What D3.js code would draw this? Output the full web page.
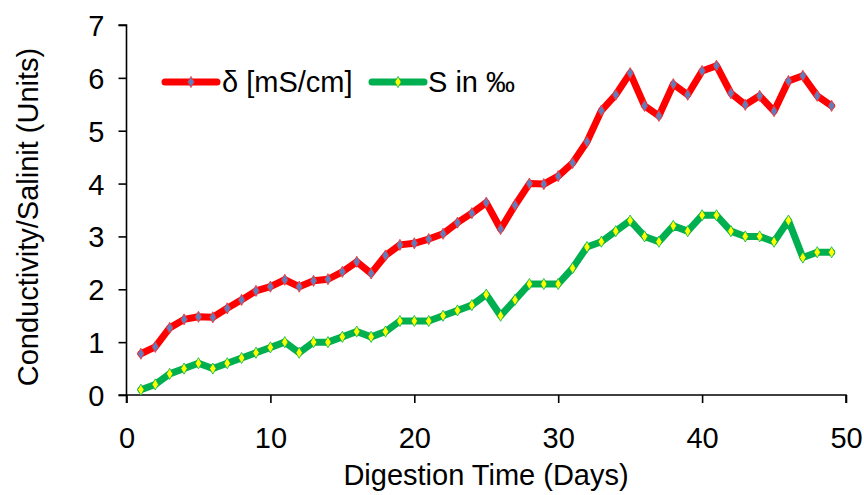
<!DOCTYPE html>
<html><head><meta charset="utf-8">
<script src="https://cdn.jsdelivr.net/npm/d3@7"></script>
<style>body{margin:0;background:#fff;} svg{display:block;} text{font-family:"Liberation Sans",Arial,sans-serif;fill:#000;}</style>
</head><body><svg id="c" width="864" height="495"></svg>
<script>
const days = d3.range(1, 50);
const conductivity = [0.78,0.91,1.27,1.43,1.48,1.47,1.64,1.80,1.97,2.05,2.18,2.05,2.16,2.19,2.33,2.52,2.30,2.64,2.84,2.87,2.95,3.05,3.26,3.44,3.64,3.14,3.59,4.00,3.99,4.14,4.39,4.79,5.38,5.68,6.09,5.47,5.28,5.88,5.68,6.13,6.23,5.71,5.49,5.66,5.37,5.94,6.04,5.66,5.47];
const salinity = [0.1,0.2,0.4,0.5,0.6,0.5,0.6,0.7,0.8,0.9,1.0,0.8,1.0,1.0,1.1,1.2,1.1,1.2,1.4,1.4,1.4,1.5,1.6,1.7,1.9,1.5,1.8,2.1,2.1,2.1,2.4,2.8,2.9,3.1,3.3,3.0,2.9,3.2,3.1,3.4,3.4,3.1,3.0,3.0,2.9,3.3,2.6,2.7,2.7];
const xTicks = [0,10,20,30,40,50];
const yTicks = [0,1,2,3,4,5,6,7];
const seriesNames = ["δ [mS/cm]", "S in ‰"];

const svg = d3.select("#c");
const x = d3.scaleLinear().domain([0,50]).range([126.5,846]);
const y = d3.scaleLinear().domain([0,7]).range([395,25]);
const FS = 29;

const series = [
  {name: seriesNames[0], values: conductivity, line: "#ff0000", mfill: "#5b7fc0", mstroke: "#ff3030"},
  {name: seriesNames[1], values: salinity, line: "#00b050", mfill: "#ffff00", mstroke: "#00b050"}
];

// axes
const yAxis = svg.append("g").attr("transform","translate(126.5,0)")
  .call(d3.axisLeft(y).tickValues(yTicks).tickSize(8).tickFormat(d3.format("d")));
const xAxis = svg.append("g").attr("transform","translate(0,395)")
  .call(d3.axisBottom(x).tickValues(xTicks).tickSize(8).tickFormat(d3.format("d")));
[yAxis,xAxis].forEach(a=>{
  a.select(".domain").attr("stroke","#000").attr("stroke-width",1.6);
  a.selectAll(".tick line").attr("stroke","#000").attr("stroke-width",1.6);
  a.selectAll("text").style("font-size",FS+"px").style("font-family","Liberation Sans, Arial, sans-serif").attr("fill","#000");
});
yAxis.select(".domain").attr("d","M-8,25H0V403");
xAxis.select(".domain").attr("d","M118.5,0H846V8");
yAxis.selectAll(".tick text").attr("x",-22).attr("dy","0.36em");
xAxis.selectAll(".tick text").attr("y",32).attr("dy","0.71em");

const diamond = d3.symbol().type(d3.symbolDiamond).size(36);
const line = d3.line().x((d,i)=>x(days[i])).y(d=>y(d));

series.forEach(s=>{
  svg.append("path").datum(s.values).attr("d",line).attr("fill","none")
    .attr("stroke",s.line).attr("stroke-width",7).attr("stroke-linejoin","round").attr("stroke-linecap","round");
  svg.append("g").selectAll("path").data(s.values).join("path")
    .attr("transform",(d,i)=>`translate(${x(days[i])},${y(d)})`)
    .attr("d",diamond).attr("fill",s.mfill).attr("stroke",s.mstroke).attr("stroke-width",0.8);
});

// legend
const leg = [{x0:165,x1:217,tx:222},{x0:372,x1:424,tx:428}];
series.forEach((s,i)=>{
  const L = leg[i], ly = 82;
  svg.append("line").attr("x1",L.x0).attr("x2",L.x1).attr("y1",ly).attr("y2",ly)
    .attr("stroke",s.line).attr("stroke-width",7).attr("stroke-linecap","round");
  svg.append("path").attr("transform",`translate(${(L.x0+L.x1)/2},${ly})`).attr("d",diamond)
    .attr("fill",s.mfill).attr("stroke",s.mstroke).attr("stroke-width",0.8);
  svg.append("text").attr("x",L.tx).attr("y",ly).attr("dy","0.36em").style("font-size",FS+"px").text(s.name);
});

// axis titles
svg.append("text").attr("x",486).attr("y",485).attr("text-anchor","middle").style("font-size",FS+"px").text("Digestion Time (Days)");
svg.append("text").attr("transform","translate(38,217) rotate(-90)").attr("text-anchor","middle").style("font-size",FS+"px").text("Conductivity/Salinit (Units)");
</script></body></html>
